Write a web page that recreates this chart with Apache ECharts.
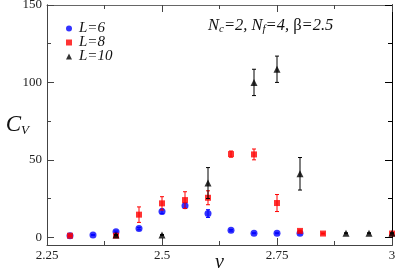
<!DOCTYPE html>
<html>
<head>
<meta charset="utf-8">
<script src="https://cdn.jsdelivr.net/npm/echarts@6/dist/echarts.min.js"></script>
<style>html,body{margin:0;padding:0;background:#fff}#c{width:395px;height:271px}</style>
</head>
<body>
<div id="c"></div>
<script>
// L = 6
var x6 = [2.3, 2.35, 2.4, 2.45, 2.5, 2.55, 2.6, 2.65, 2.7, 2.75, 2.8];
var cv6 = [1, 1.5, 3.5, 5.6, 16.7, 20.4, 15.3, 4.5, 2.6, 2.6, 2.6];
var err6 = [0.3, 0.3, 0.5, 0.8, 1.5, 1.8, 2.5, 0.5, 0.3, 0.3, 0.3];
// L = 8
var x8 = [2.3, 2.4, 2.45, 2.5, 2.55, 2.6, 2.65, 2.7, 2.75, 2.8, 2.85, 3.0];
var cv8 = [1, 1, 14.6, 21.9, 24, 25.5, 53.7, 53.5, 22.1, 4.1, 2.4, 2.4];
var err8 = [0.2, 0.3, 5, 4.3, 5.4, 4.5, 2, 3.5, 5.5, 0.5, 0.3, 0.3];
// L = 10
var x10 = [2.4, 2.5, 2.6, 2.7, 2.75, 2.8, 2.9, 2.95, 3.0];
var cv10 = [1.5, 1.5, 35, 100, 108.5, 41, 2.6, 2.6, 2.6];
var err10 = [0.3, 0.3, 10, 8.5, 8.5, 10.5, 0.3, 0.3, 0.3];

var seriesNames = ['L=6', 'L=8', 'L=10'];
var xTicks = [2.25, 2.5, 2.75, 3];
var yMajor = [0, 50, 100, 150];
var yMinor = [25, 75, 125];

var FONT = 'Liberation Serif, Times New Roman, serif';

function pts(xs, ys, es) {
  return xs.map(function (x, i) { return [x, ys[i], es[i]]; });
}

function errRender(color) {
  return function (params, api) {
    var x = api.value(0), y = api.value(1), e = api.value(2);
    var t = api.coord([x, y + e]);
    var b = api.coord([x, y - e]);
    var hw = 2;
    var st = { stroke: color, lineWidth: 1 };
    return {
      type: 'group',
      children: [
        { type: 'line', shape: { x1: t[0], y1: t[1], x2: b[0], y2: b[1] }, style: st },
        { type: 'line', shape: { x1: t[0] - hw, y1: t[1], x2: t[0] + hw, y2: t[1] }, style: st },
        { type: 'line', shape: { x1: b[0] - hw, y1: b[1], x2: b[0] + hw, y2: b[1] }, style: st }
      ]
    };
  };
}

var lineCol = '#444';
function yAx(pos, vals, len, labels, col) {
  return {
    type: 'value', position: pos, min: -5, max: 150,
    axisLine: { show: true, lineStyle: { color: col || lineCol, width: 1 } },
    axisTick: { show: true, inside: true, length: len, customValues: vals, lineStyle: { color: col || lineCol } },
    axisLabel: labels ? { show: true, customValues: vals, fontFamily: FONT, fontSize: 13, color: '#222', margin: 5 } : { show: false },
    splitLine: { show: false }
  };
}

var option = {
  animation: false,
  backgroundColor: '#fff',
  grid: { left: 47, right: 3, top: 5, bottom: 26, containLabel: false, outerBoundsMode: 'none' },
  title: {
    text: '{i|N}{s|c}{i|=2, N}{s|f}{i|=4, }{n|β}{i|=2.5}',
    left: 203, top: 12,
    textStyle: {
      rich: {
        i: { fontFamily: FONT, fontStyle: 'italic', fontWeight: 'normal', fontSize: 16.5, color: '#111', lineHeight: 18 },
        n: { fontFamily: FONT, fontWeight: 'normal', fontSize: 16.5, color: '#111', lineHeight: 18 },
        s: { fontFamily: FONT, fontStyle: 'italic', fontWeight: 'normal', fontSize: 11, color: '#111', lineHeight: 10, verticalAlign: 'bottom' }
      }
    }
  },
  legend: {
    data: seriesNames,
    orient: 'vertical',
    left: 61, top: 16,
    itemWidth: 6, itemHeight: 6, itemGap: -1,
    textStyle: { fontFamily: FONT, fontStyle: 'italic', fontSize: 15, color: '#111', lineHeight: 13.5, padding: [0, 0, 0, 2] }
  },
  xAxis: [
    {
      type: 'value', position: 'bottom', min: 2.25, max: 3, interval: 0.25,
      name: 'v', nameLocation: 'middle', nameGap: 8, nameMoveOverlap: false,
      nameTextStyle: { fontFamily: FONT, fontStyle: 'italic', fontSize: 20, color: '#111', verticalAlign: 'top' },
      axisLine: { onZero: false, lineStyle: { color: lineCol } },
      axisTick: { inside: true, length: 7, lineStyle: { color: lineCol } },
      minorTick: { show: true, splitNumber: 2, length: 4, lineStyle: { color: lineCol } },
      axisLabel: { fontFamily: FONT, fontSize: 13, color: '#222', margin: 4,
        formatter: function (v) { return String(v); } },
      splitLine: { show: false }
    },
    {
      type: 'value', position: 'top', min: 2.25, max: 3, interval: 0.25,
      axisLine: { onZero: false, lineStyle: { color: '#666' } },
      axisTick: { inside: true, length: 7, lineStyle: { color: lineCol } },
      minorTick: { show: true, splitNumber: 2, length: 4, lineStyle: { color: lineCol } },
      axisLabel: { show: false },
      splitLine: { show: false }
    }
  ],
  yAxis: [
    Object.assign(yAx('left', yMajor, 7, true), {
      name: '{c|C}{s|V}', nameLocation: 'middle', nameRotate: 0, nameGap: 18, nameMoveOverlap: false,
      nameTextStyle: {
        rich: {
          c: { fontFamily: FONT, fontStyle: 'italic', fontSize: 23, color: '#111', lineHeight: 24 },
          s: { fontFamily: FONT, fontStyle: 'italic', fontSize: 13, color: '#111', lineHeight: 12, verticalAlign: 'bottom' }
        }
      }
    }),
    yAx('right', yMajor, 7, false, '#000'),
    yAx('left', yMinor, 4, false),
    yAx('right', yMinor, 4, false, '#000')
  ],
  series: [
    { name: 'e6', type: 'custom', xAxisIndex: 0, yAxisIndex: 0, renderItem: errRender('#0000ff'), data: pts(x6, cv6, err6), z: 2, silent: true },
    { name: 'L=6', type: 'scatter', xAxisIndex: 0, yAxisIndex: 0, symbol: 'circle', symbolSize: 7,
      itemStyle: { color: '#0000ff' }, data: pts(x6, cv6, err6), z: 3 },
    { name: 'e8', type: 'custom', xAxisIndex: 0, yAxisIndex: 0, renderItem: errRender('#ff0000'), data: pts(x8, cv8, err8), z: 4, silent: true },
    { name: 'L=8', type: 'scatter', xAxisIndex: 0, yAxisIndex: 0, symbol: 'rect', symbolSize: 6,
      itemStyle: { color: '#ff0000' }, data: pts(x8, cv8, err8), z: 5 },
    { name: 'e10', type: 'custom', xAxisIndex: 0, yAxisIndex: 0, renderItem: errRender('#000000'), data: pts(x10, cv10, err10), z: 6, silent: true },
    { name: 'L=10', type: 'scatter', xAxisIndex: 0, yAxisIndex: 0, symbol: 'triangle', symbolSize: 7,
      itemStyle: { color: '#000000' }, data: pts(x10, cv10, err10), z: 7 }
  ]
};

var chart = echarts.init(document.getElementById('c'), null, { renderer: 'canvas' });
chart.setOption(option);
</script>
</body>
</html>
